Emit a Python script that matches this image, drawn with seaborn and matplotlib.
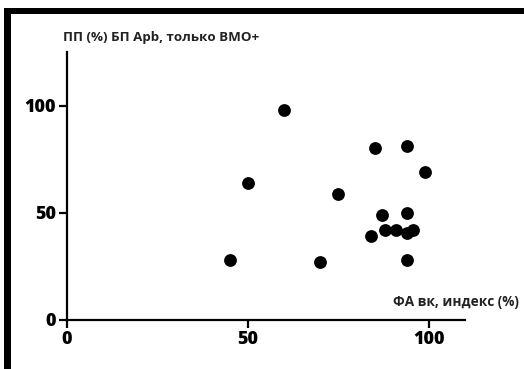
import matplotlib
matplotlib.use("Agg")
import matplotlib.pyplot as plt
import seaborn as sns
import pandas as pd
from matplotlib.patches import Rectangle

fa_index = [60, 85, 94, 99, 50, 75, 87, 94, 88, 91, 94, 95.5, 84, 45, 70, 94]
pp_value = [98, 80, 81, 69, 64, 59, 49, 50, 42, 42, 40.6, 42, 39, 28, 27, 28]
x_ticks = [0, 50, 100]
y_ticks = [0, 50, 100]
title_text = "ПП (%) БП Apb, только ВМО+"
xlabel_text = "ФА вк, индекс (%)"

sns.set_style("ticks")
plt.rcParams['font.family'] = ['Open Sans', 'DejaVu Sans']
plt.rcParams['text.color'] = 'black'
plt.rcParams['xtick.color'] = 'black'
plt.rcParams['ytick.color'] = 'black'

df = pd.DataFrame({"x": fa_index, "y": pp_value})

fig = plt.figure(figsize=(5.24, 3.69), dpi=100)
ax = fig.add_axes([67/524, 1-320/369, (465-67)/524, (320-52)/369])
sns.scatterplot(data=df, x="x", y="y", ax=ax, color="black", s=85,
                edgecolor="black", linewidth=0, legend=False)

ax.set_xlim(0, 110)
ax.set_ylim(0, 125)
ax.set_xticks(x_ticks)
ax.set_yticks(y_ticks)
ax.set_xlabel("")
ax.set_ylabel("")
for s in ["top", "right"]:
    ax.spines[s].set_visible(False)
for s in ["left", "bottom"]:
    ax.spines[s].set_linewidth(1.6)
    ax.spines[s].set_color("black")
ax.tick_params(axis="both", length=6, width=1.6, color="black", labelcolor="black",
               pad=2, labelsize=13)
for lab in ax.get_xticklabels() + ax.get_yticklabels():
    lab.set_fontweight("heavy")

fig.text(63/524, 1-37/369, title_text, fontsize=9.6, fontweight="bold",
         ha="left", va="center", color="#222222")
fig.text(519/524, 1-302/369, xlabel_text, fontsize=9.8, fontweight="bold",
         ha="right", va="center", color="#222222")

# frame lines (top and left) of the original figure
fig.patches.append(Rectangle((4/524, 0), 7/524, 1-8/369, transform=fig.transFigure,
                             facecolor="black", edgecolor="none", zorder=10))
fig.patches.append(Rectangle((4/524, 1-14/369), 1-4/524, 6/369, transform=fig.transFigure,
                             facecolor="black", edgecolor="none", zorder=10))

fig.savefig("out.png", dpi=100, facecolor="white")
